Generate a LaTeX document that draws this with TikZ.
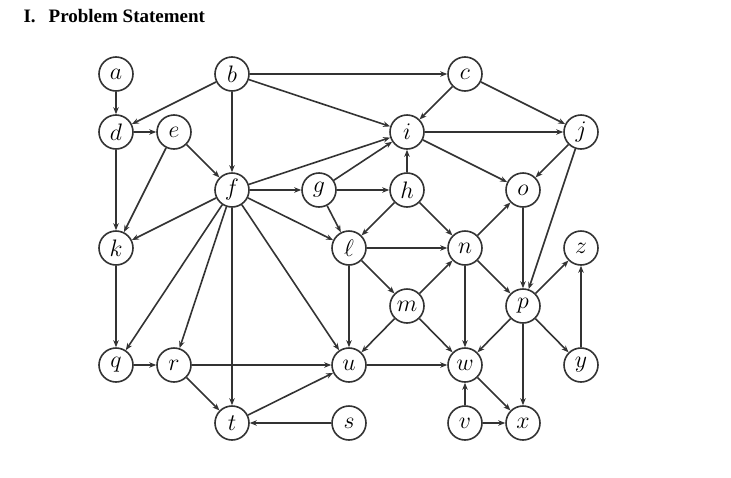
\documentclass[tikz,border=0pt]{standalone}
\usepackage{fontspec}
\setmainfont{Liberation Serif}
\usetikzlibrary{arrows.meta}
\newcommand{\vl}[1]{\scalebox{1.15}{$#1$}}
\begin{document}
\begin{tikzpicture}[x=1pt,y=-1pt,
  vtx/.style={circle,draw=black!80,line width=1.6pt,minimum size=34pt,inner sep=0pt,fill=white,
    font=\fontsize{20.74}{22}\selectfont},
  edge/.style={draw=black!80,line width=1.6pt,-{Stealth[length=7pt,width=5.5pt]}}]
\useasboundingbox (0,0) rectangle (731,477);
\node[anchor=base west,font=\fontsize{19}{20}\selectfont\bfseries] (title) at (20,22) {I.\hspace{13pt}Problem Statement};
\node[vtx] (a) at (116,74) {\vl{a}};
\node[vtx] (b) at (232,74) {\vl{b}};
\node[vtx] (c) at (465,74) {\vl{c}};
\node[vtx] (d) at (116,132) {\vl{d}};
\node[vtx] (e) at (174,132) {\vl{e}};
\node[vtx] (i) at (407,132) {\vl{i}};
\node[vtx] (j) at (581,132) {\vl{j}};
\node[vtx] (f) at (232,190) {\vl{f}};
\node[vtx] (g) at (319,190) {\vl{g}};
\node[vtx] (h) at (407,190) {\vl{h}};
\node[vtx] (o) at (523,190) {\vl{o}};
\node[vtx] (k) at (116,248) {\vl{k}};
\node[vtx] (l) at (349,248) {\vl{\ell}};
\node[vtx] (n) at (465,248) {\vl{n}};
\node[vtx] (z) at (581,248) {\vl{z}};
\node[vtx] (m) at (407,306) {\vl{m}};
\node[vtx] (p) at (523,306) {\vl{p}};
\node[vtx] (q) at (116,365) {\vl{q}};
\node[vtx] (r) at (174,365) {\vl{r}};
\node[vtx] (u) at (349,365) {\vl{u}};
\node[vtx] (w) at (465,365) {\vl{w}};
\node[vtx] (y) at (581,365) {\vl{y}};
\node[vtx] (t) at (232,423) {\vl{t}};
\node[vtx] (s) at (349,423) {\vl{s}};
\node[vtx] (v) at (465,423) {\vl{v}};
\node[vtx] (x) at (523,423) {\vl{x}};
\foreach \p/\q in {a/d,b/d,b/f,b/c,b/i,c/i,c/j,d/e,d/k,e/f,e/k,f/k,f/i,f/g,f/l,f/u,f/t,f/r,f/q,
  g/h,g/i,g/l,h/i,h/l,h/n,i/j,i/o,j/o,j/p,o/p,n/o,l/n,l/m,l/u,m/n,m/u,m/w,n/w,n/p,
  p/z,p/y,p/w,p/x,y/z,k/q,q/r,r/u,r/t,t/u,s/t,u/w,w/x,v/w,v/x}
  \draw[edge] (\p) -- (\q);
\end{tikzpicture}
\end{document}
